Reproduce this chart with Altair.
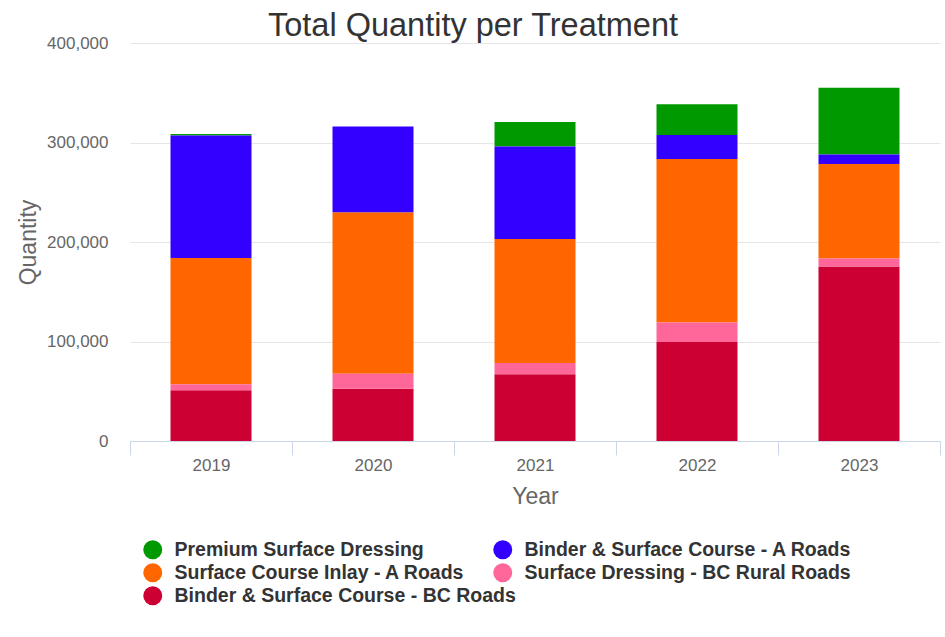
import altair as alt
import pandas as pd

# Quantities per treatment and year (stacked bottom to top)
years = ["2019", "2020", "2021", "2022", "2023"]
binder_bc_roads = [51000, 52500, 67000, 99500, 175500]
dressing_bc_rural = [6000, 15000, 11500, 19500, 8000]
inlay_a_roads = [127000, 162500, 124500, 164500, 95000]
binder_a_roads = [123000, 86000, 93000, 24000, 9500]
premium_dressing = [1500, 0, 24500, 31000, 67000]

series = [
    ("Binder & Surface Course - BC Roads", binder_bc_roads, "#cc0033"),
    ("Surface Dressing - BC Rural Roads", dressing_bc_rural, "#ff6699"),
    ("Surface Course Inlay - A Roads", inlay_a_roads, "#ff6600"),
    ("Binder & Surface Course - A Roads", binder_a_roads, "#3300ff"),
    ("Premium Surface Dressing", premium_dressing, "#009900"),
]
colors = {name: c for name, _, c in series}

rows = []
for rank, (name, values, _) in enumerate(series):
    for year, v in zip(years, values):
        rows.append({"Year": year, "Treatment": name, "Quantity": v, "rank": rank})
df = pd.DataFrame(rows)

# Legend columns (read row by row: left entry, then right entry)
left_column = [
    "Premium Surface Dressing",
    "Surface Course Inlay - A Roads",
    "Binder & Surface Course - BC Roads",
]
right_column = [
    "Binder & Surface Course - A Roads",
    "Surface Dressing - BC Rural Roads",
]

FONT = "Liberation Sans"

x_enc = alt.X(
    "Year:N",
    title="Year",
    scale=alt.Scale(paddingInner=0, paddingOuter=0),
    axis=alt.Axis(
        labelAngle=0,
        labelFontSize=17,
        labelColor="#666666",
        labelPadding=2,
        tickBand="extent",
        tickSize=14,
        tickColor="#ccd6eb",
        domainColor="#ccd6eb",
        grid=False,
        titleFontSize=23,
        titleFontWeight="normal",
        titleColor="#666666",
        titleX=405,
        titleY=55,
        titleBaseline="middle",
    ),
)

y_enc = alt.Y(
    "q0:Q",
    title="Quantity",
    scale=alt.Scale(domain=[0, 400000], nice=False),
    axis=alt.Axis(
        values=[0, 100000, 200000, 300000, 400000],
        format=",d",
        labelFontSize=17,
        labelColor="#666666",
        labelPadding=22,
        ticks=False,
        domain=False,
        gridColor="#e6e6e6",
        titleFontSize=23,
        titleFontWeight="normal",
        titleColor="#666666",
        titleX=-102,
        titleY=199,
        titleAngle=270,
        titleBaseline="middle",
        titleAlign="center",
    ),
)


def legend_at(x):
    return alt.Legend(
        title=None,
        orient="none",
        legendX=x,
        legendY=497,
        rowPadding=2,
        padding=0,
        symbolType="circle",
        symbolSize=360,
        symbolStrokeWidth=0,
        labelFontSize=19.5,
        labelFontWeight="bold",
        labelColor="#333333",
        labelOffset=12,
        labelLimit=500,
    )


# Stack all five series once, then draw them in two layers so that each
# half of the legend can be placed on its own
base = alt.Chart(df).transform_stack(
    stack="Quantity",
    groupby=["Year"],
    as_=["q0", "q1"],
    sort=[alt.SortField("rank", order="ascending")],
)


def bars(names, legend_x):
    return (
        base.transform_filter(alt.FieldOneOfPredicate(field="Treatment", oneOf=names))
        .mark_bar(width=alt.RelativeBandSize(0.5))
        .encode(
            x=x_enc,
            y=y_enc,
            y2="q1:Q",
            color=alt.Color(
                "Treatment:N",
                scale=alt.Scale(domain=names, range=[colors[n] for n in names]),
                legend=legend_at(legend_x),
            ),
        )
    )


chart = (
    alt.layer(bars(left_column, 13), bars(right_column, 363))
    .resolve_scale(color="independent")
    .properties(
        width=810,
        height=398,
        title=alt.TitleParams(
            "Total Quantity per Treatment",
            fontSize=32.5,
            fontWeight="normal",
            color="#333333",
            anchor="middle",
            dx=-62,
            dy=34,
            offset=0,
            baseline="alphabetic",
        ),
        autosize=alt.AutoSizeParams(type="none"),
        padding={"left": 130, "top": 43, "right": 5, "bottom": 196},
    )
    .configure(font=FONT)
    .configure_view(strokeWidth=0)
)

chart.save("out.html", embed_options={"renderer": "svg", "actions": False})
